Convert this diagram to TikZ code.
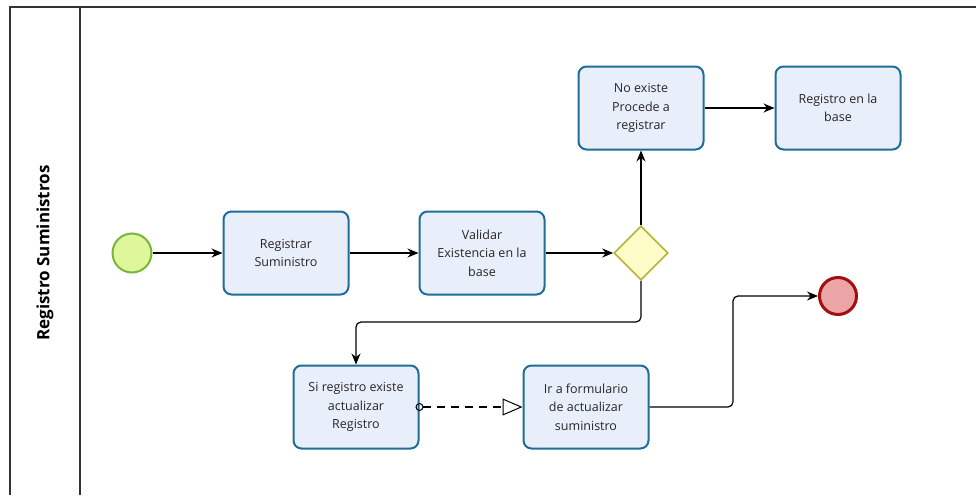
\documentclass[tikz,border=0pt]{standalone}
\usepackage{fontspec}
\setmainfont{Open Sans}
\usetikzlibrary{arrows.meta,shapes.geometric}
\definecolor{taskline}{HTML}{1F6E99}
\definecolor{taskfill}{HTML}{E9EEFB}
\definecolor{startfill}{HTML}{DDF79A}
\definecolor{startline}{HTML}{79B53A}
\definecolor{endfill}{HTML}{EBA5A6}
\definecolor{endline}{HTML}{A30E0E}
\definecolor{gatefill}{HTML}{FDFDCA}
\definecolor{gateline}{HTML}{B3B335}
\definecolor{poolline}{HTML}{333333}
\begin{document}
\begin{tikzpicture}[x=1pt,y=-1pt,
  task/.style={draw=taskline,fill=taskfill,line width=2pt,rounded corners=8pt,
    minimum width=125pt,minimum height=83pt,align=center,inner sep=2pt,
    font=\fontsize{12.5}{18.5}\selectfont,text=black!85},
  startev/.style={circle,draw=startline,fill=startfill,line width=2pt,minimum size=39pt,inner sep=0pt},
  endev/.style={circle,draw=endline,fill=endfill,line width=3pt,minimum size=37pt,inner sep=0pt},
  gate/.style={diamond,draw=gateline,fill=gatefill,line width=1.6pt,minimum width=54pt,minimum height=54pt,inner sep=0pt},
  flow/.style={draw=black,line width=1.2pt,-{Stealth[length=11pt,width=9pt]},rounded corners=5pt},
  assoc/.style={draw=black,line width=1.1pt,dash pattern=on 8pt off 6pt,
    {Circle[open,length=8pt,width=8pt,line width=1pt]}-{Triangle[open,length=20pt,width=17pt,line width=1pt]}}
]
\useasboundingbox (0,0) rectangle (976,495);

% pool and lane header
\draw[poolline,line width=1.3pt] (10,495) -- (10,7) -- (976,7);
\draw[poolline,line width=1.3pt] (80,7) -- (80,495);
\node[rotate=90,font=\bfseries\fontsize{17}{18}\selectfont] (lane) at (45,253) {Registro Suministros};

% events, tasks and gateway
\node[startev] (start) at (132,253) {};
\node[task] (reg) at (286,253) {Registrar\\Suministro};
\node[task] (val) at (482,253) {Validar\\Existencia en la\\base};
\node[gate] (gw) at (641,253) {};
\node[task] (noex) at (641,108) {No existe\\Procede a\\registrar};
\node[task] (base) at (838,108) {Registro en la\\base};
\node[task] (siex) at (356,407) {Si registro existe\\actualizar\\Registro};
\node[task] (form) at (586,407) {Ir a formulario\\de actualizar\\suministro};
\node[endev] (end) at (838,296) {};

% sequence flows
\draw[flow] (start) -- (reg);
\draw[flow] (reg) -- (val);
\draw[flow] (val) -- (gw);
\draw[flow] (gw) -- (noex);
\draw[flow] (noex) -- (base);
\draw[flow] (gw.south) |- (356,322) -- (siex.north);
\draw[flow] (form.east) -- (733,407) |- (end.west);

% association
\draw[assoc] ([xshift=-4pt]siex.east) -- (form.west);
\end{tikzpicture}
\end{document}
